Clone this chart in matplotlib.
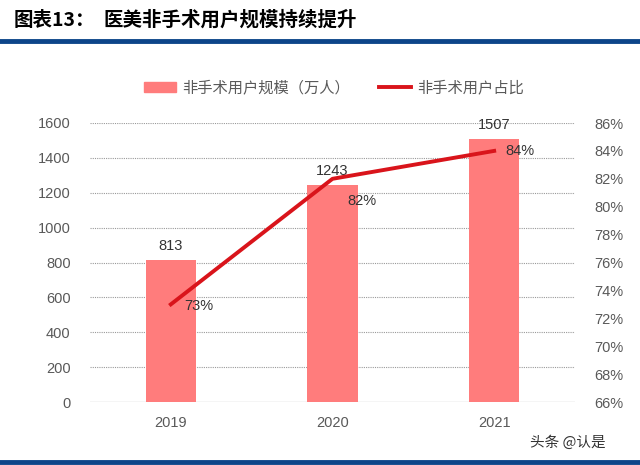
import matplotlib
matplotlib.use("Agg")
import matplotlib.pyplot as plt
from matplotlib.lines import Line2D
from matplotlib.patches import Patch

plt.rcParams['font.family'] = ['Liberation Sans', 'Noto Sans CJK SC', 'DejaVu Sans']

years = ['2019', '2020', '2021']
users = [813, 1243, 1507]
share = [73, 82, 84]
share_labels = ['73%', '82%', '84%']
left_ticks = [0, 200, 400, 600, 800, 1000, 1200, 1400, 1600]
right_ticks = [66, 68, 70, 72, 74, 76, 78, 80, 82, 84, 86]

title_no = '图表13：'
title = '医美非手术用户规模持续提升'
legend_bar = '非手术用户规模（万人）'
legend_line = '非手术用户占比'
watermark = '头条 @认是'

bar_color = '#FF7C7C'
line_color = '#D9141B'
tick_color = '#595959'
blue = '#0D4589'

fig = plt.figure(figsize=(6.4, 4.65), dpi=100)
ax = fig.add_axes([90/640, 1-402/465, (575-90)/640, (402-123)/465])
ax2 = ax.twinx()

x = list(range(len(years)))
ax.bar(x, users, width=0.31, color=bar_color, zorder=2)
ax.set_xlim(-0.5, 2.5)
ax.set_ylim(0, 1600)
ax.set_yticks(left_ticks)
ax.set_xticks(x)
ax.set_xticklabels(years)
for v in left_ticks[1:]:
    ax.axhline(v, color='#9a9a9a', lw=0.8, ls=(0, (1, 1)), zorder=1)
ax.axhline(0, color='#d0d0d0', lw=1, zorder=1)

for xi, v in zip(x, users):
    ax.text(xi, v + 40, str(v), ha='center', va='bottom', fontsize=10.5, color='#333333')

ax2.plot(x, share, color=line_color, lw=2.8, zorder=3)
ax2.set_ylim(66, 86)
ax2.set_yticks(right_ticks)
ax2.set_yticklabels([f'{t}%' for t in right_ticks])
offsets = [(0.17, -0.1), (0.18, -1.6), (0.16, 0.0)]
for xi, v, lab, (dx, dy) in zip(x, share, share_labels, offsets):
    ax2.text(xi + dx, v + dy, lab, ha='center', va='center', fontsize=10.5, color='#333333', zorder=4)

for a in (ax, ax2):
    for s in a.spines.values():
        s.set_visible(False)
    a.tick_params(length=0, labelsize=10.5, labelcolor=tick_color)
ax.tick_params(axis='y', pad=14)
ax.tick_params(axis='x', pad=10)
ax2.tick_params(axis='y', pad=14)

handles = [Patch(color=bar_color), Line2D([0], [0], color=line_color, lw=2.8)]
fig.legend(handles, [legend_bar, legend_line], loc='center', bbox_to_anchor=(0.522, 1-88/465),
           ncol=2, frameon=False, handlelength=2.1, handleheight=0.6, handletextpad=0.4,
           columnspacing=1.9, labelcolor=tick_color,
           prop={'family': ['Noto Sans CJK SC'], 'size': 11})

fig.text(14/640, 1-20/465, title_no, ha='left', va='center', fontsize=14, fontweight='bold',
         family=['Noto Sans CJK SC'], color='#000000')
fig.text(103/640, 1-20/465, title, ha='left', va='center', fontsize=14, fontweight='bold',
         family=['Noto Sans CJK SC'], color='#000000')
fig.add_artist(Line2D([0, 1], [1-41/465, 1-41/465], color=blue, lw=3.5, transform=fig.transFigure))
fig.add_artist(Line2D([0, 1], [1-462/465, 1-462/465], color=blue, lw=3.5, transform=fig.transFigure))
fig.text(568/640, 1-443/465, watermark, ha='center', va='center', fontsize=10.5,
         family=['Noto Sans CJK SC'], color='#333333')

fig.savefig('out.png', dpi=100)
